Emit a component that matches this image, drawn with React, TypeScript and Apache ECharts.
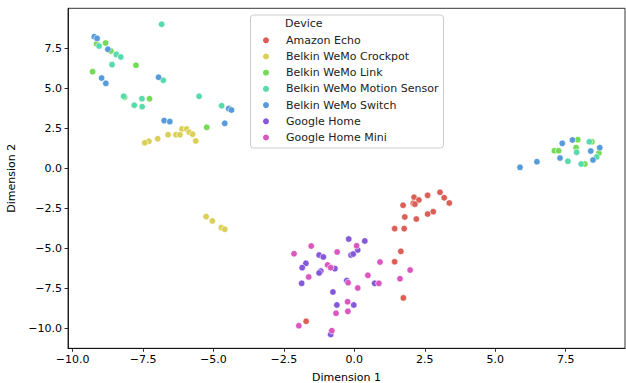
import React, { useEffect, useRef } from "react";
import * as echarts from "echarts";

const deviceNames = [
  "Amazon Echo",
  "Belkin WeMo Crockpot",
  "Belkin WeMo Link",
  "Belkin WeMo Motion Sensor",
  "Belkin WeMo Switch",
  "Google Home",
  "Google Home Mini",
];

const deviceColors = ["#db5f57", "#dbd057", "#74db57", "#57dbaa", "#579bdb", "#8557db", "#db57c0"];

const amazonEcho = [
  [3.04, -1.5], [3.19, -1.84], [3.37, -2.17], [2.6, -1.69], [2.12, -1.81], [2.29, -1.98],
  [2.09, -2.19], [2.15, -2.24], [1.73, -2.31], [1.79, -3.04], [2.2, -3.17], [2.8, -2.71],
  [2.6, -2.86], [1.43, -3.77], [1.77, -3.77], [1.65, -5.19], [1.43, -5.84], [1.74, -8.1],
  [-1.71, -9.56],
];

const belkinCrockpot = [
  [-6.12, 2.46], [-5.95, 2.46], [-5.86, 2.25], [-5.74, 2.13], [-6.61, 2.1], [-6.33, 2.1],
  [-6.19, 2.1], [-6.98, 1.85], [-7.29, 1.69], [-7.44, 1.6], [-5.63, 1.71], [-5.26, -3.02],
  [-5.04, -3.29], [-4.72, -3.71], [-4.6, -3.81],
];

const belkinLink = [
  [-9.15, 7.77], [-8.83, 7.83], [-8.64, 7.33], [-7.75, 6.44], [-9.29, 6.04], [-8.15, 4.45],
  [-7.27, 4.35], [-5.24, 2.56], [7.93, 1.79], [8.43, 1.66], [7.1, 1.1], [7.25, 1.1],
  [7.87, 1.29], [8.68, 0.96], [8.18, 0.27],
];

const belkinMotion = [
  [-6.84, 9.0], [-9.06, 7.64], [-8.45, 7.12], [-8.29, 6.96], [-8.6, 6.48], [-6.78, 5.5],
  [-8.19, 4.5], [-7.54, 4.35], [-7.81, 3.94], [-7.53, 3.85], [-5.51, 4.5], [-4.71, 3.91],
  [8.34, 1.66], [7.89, 1.0], [8.6, 0.71], [7.58, 0.44], [8.05, 0.27],
];

const belkinSwitch = [
  [-9.23, 8.22], [-9.13, 8.12], [-8.75, 7.44], [-8.97, 5.64], [-8.82, 5.31], [-6.95, 5.69],
  [-4.46, 3.73], [-4.36, 3.64], [-6.75, 2.98], [-6.55, 2.92], [-4.6, 2.81], [5.88, 0.06],
  [6.48, 0.41], [7.38, 1.56], [7.74, 1.77], [8.39, 1.08], [8.71, 1.29], [7.3, 0.64],
  [8.47, 0.52],
];

const googleHome = [
  [-0.2, -4.42], [0.37, -4.54], [0.12, -5.11], [-0.12, -5.42], [-0.04, -5.36], [-1.25, -5.42],
  [-1.1, -5.54], [-1.72, -5.94], [-1.85, -6.21], [-0.69, -6.27], [-1.19, -6.42], [-1.25, -6.54],
  [-1.87, -7.19], [-0.27, -7.02], [-0.76, -7.73], [-0.62, -8.54], [-0.02, -8.54], [-0.84, -10.38],
  [0.72, -7.19],
];

const googleHomeMini = [
  [0.08, -4.84], [-1.53, -4.86], [-2.14, -5.34], [-0.61, -5.23], [-0.95, -6.04], [-0.84, -6.21],
  [-1.62, -6.79], [0.48, -6.69], [-0.22, -7.15], [0.12, -7.48], [-0.24, -8.34], [-0.65, -9.06],
  [-0.23, -8.94], [-1.97, -9.84], [-0.8, -10.15], [0.91, -5.86], [1.98, -6.36], [1.62, -6.9],
  [0.87, -7.19],
];

const seriesData = [amazonEcho, belkinCrockpot, belkinLink, belkinMotion, belkinSwitch, googleHome, googleHomeMini];

const xTicks = [-10, -7.5, -5, -2.5, 0, 2.5, 5, 7.5];
const yTicks = [-10, -7.5, -5, -2.5, 0, 2.5, 5, 7.5];

const FONT = "DejaVu Sans";
const FS = 11;
const fmt = (v: number) => (Math.abs(v) < 1e-9 ? "0.0" : v.toFixed(1).replace("-", "\u2212"));

export default function App() {
  const ref = useRef<HTMLDivElement>(null);
  useEffect(() => {
    document.body.style.margin = "0";
    if (!ref.current) return;
    const chart = echarts.init(ref.current, null, { renderer: "svg" });
    const axisCommon = {
      type: "value" as const,
      nameLocation: "middle" as const,
      nameTextStyle: { fontFamily: FONT, fontSize: FS, color: "#000" },
      axisLine: { show: true, onZero: false, lineStyle: { color: "#000", width: 0.8 } },
      axisTick: { show: true, inside: false, length: 3.5, lineStyle: { color: "#000", width: 0.8 } },
      splitLine: { show: false },
    };
    chart.setOption({
      animation: false,
      backgroundColor: "#ffffff",
      grid: {
        left: 68,
        right: 1,
        top: 8.3,
        bottom: 34.7,
        containLabel: false,
        outerBoundsMode: "none",
        show: true,
        borderColor: "#000",
        borderWidth: 0.8,
        backgroundColor: "transparent",
      },
      xAxis: {
        ...axisCommon,
        name: "Dimension 1",
        nameGap: 24,
        min: -10.163,
        max: 9.606,
        axisTick: { ...axisCommon.axisTick, customValues: xTicks },
        axisLabel: {
          customValues: xTicks,
          formatter: fmt,
          fontFamily: FONT,
          fontSize: FS,
          color: "#000",
          margin: 5.5,
        },
      },
      yAxis: {
        ...axisCommon,
        name: "Dimension 2",
        nameGap: 42,
        min: -11.25,
        max: 10.0,
        axisTick: { ...axisCommon.axisTick, customValues: yTicks },
        axisLabel: {
          customValues: yTicks,
          formatter: fmt,
          fontFamily: FONT,
          fontSize: FS,
          color: "#000",
          margin: 6,
        },
      },
      legend: {
        left: 261,
        top: 33.8,
        orient: "vertical",
        padding: 0,
        itemWidth: 30,
        itemHeight: 8,
        itemGap: 3.2,
        icon: "circle",
        textStyle: { fontFamily: FONT, fontSize: FS, color: "#222", lineHeight: 13 },
        data: deviceNames,
      },
      graphic: [
        {
          type: "rect",
          left: 250,
          top: 14.5,
          shape: { width: 193, height: 133, r: 3 },
          style: { fill: "rgba(255,255,255,0.8)", stroke: "#cccccc", lineWidth: 1 },
          z: 0,
        },
        {
          type: "text",
          left: 285,
          top: 18,
          style: { text: "Device", fontFamily: FONT, fontSize: FS, fill: "#222" },
          z: 10,
        },
      ],
      series: deviceNames.map((name, i) => ({
        name,
        type: "scatter",
        data: seriesData[i],
        symbol: "circle",
        symbolSize: 6.5,
        itemStyle: { color: deviceColors[i], borderColor: "#ffffff", borderWidth: 0.6, opacity: 1 },
        emphasis: { disabled: true },
      })),
    });
    return () => chart.dispose();
  }, []);
  return <div ref={ref} style={{ width: 626, height: 383 }} />;
}
